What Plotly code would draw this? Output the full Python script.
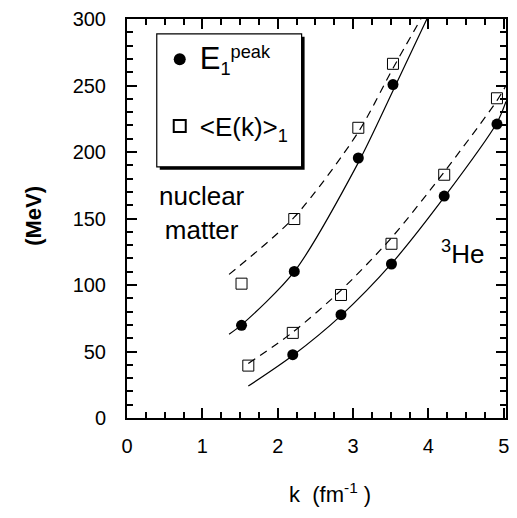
import plotly.graph_objects as go

# ---- data ----
k_nm = [1.52, 2.22, 3.07, 3.53]
peak_nm = [69.7, 110.2, 195.5, 250.7]
mean_nm = [101.0, 149.6, 218.2, 266.3]

k_he = [2.20, 2.84, 3.51, 4.21, 4.91]
peak_he = [47.6, 77.7, 115.8, 166.9, 221.0]
k_he_sq = [1.61, 2.20, 2.84, 3.51, 4.21, 4.91]
mean_he = [39.4, 64.0, 92.5, 131.0, 182.9, 240.4]

# fitted curves
fit_nm_solid_k = [1.355, 1.52, 2.22, 3.07, 3.53, 3.98]
fit_nm_solid_e = [63.0, 70.0, 110.0, 192.0, 246.0, 300.0]
fit_nm_dash_k = [1.355, 2.22, 3.07, 3.53, 3.90]
fit_nm_dash_e = [108.0, 151.0, 215.0, 263.0, 300.0]
fit_he_solid_k = [1.61, 2.20, 2.84, 3.51, 4.21, 4.91, 5.03]
fit_he_solid_e = [24.0, 47.0, 77.0, 116.0, 166.0, 222.0, 238.0]
fit_he_dash_k = [1.61, 2.20, 2.84, 3.51, 4.21, 4.91, 5.03]
fit_he_dash_e = [41.0, 64.5, 96.0, 135.5, 185.0, 238.6, 250.0]

x_ticks = [0, 1, 2, 3, 4, 5]
y_ticks = [0, 50, 100, 150, 200, 250, 300]

FONT = "Liberation Sans, Arial, Helvetica, sans-serif"

# plot-area geometry in page pixels
L, R, T, B = 127, 509, 13, 418
W, H = 517, 518


def px_x(p):
    return (p - L) / (R - L)


def px_y(p):
    return (B - p) / (B - T)


fig = go.Figure()

line_style = dict(color="black", width=1.2, shape="spline", smoothing=0.8)
for kx, ey, dash in [
    (fit_nm_solid_k, fit_nm_solid_e, "solid"),
    (fit_nm_dash_k, fit_nm_dash_e, "dash"),
    (fit_he_solid_k, fit_he_solid_e, "solid"),
    (fit_he_dash_k, fit_he_dash_e, "dash"),
]:
    fig.add_trace(go.Scatter(x=kx, y=ey, mode="lines",
                             line=dict(dash="8px,6px" if dash == "dash" else "solid", **line_style),
                             showlegend=False, hoverinfo="skip"))

circ = dict(symbol="circle", size=11, color="black")
sq = dict(symbol="square-open", size=11, color="black", line=dict(width=1))

fig.add_trace(go.Scatter(x=k_nm, y=peak_nm, mode="markers", marker=circ,
                         name="<span style='font-size:31px'>E</span><sub>1</sub><sup>peak</sup>",
                         legendgroup="a"))
fig.add_trace(go.Scatter(x=k_nm, y=mean_nm, mode="markers", marker=sq,
                         name="<E(k)><sub>1</sub>", legendgroup="b"))
fig.add_trace(go.Scatter(x=k_he, y=peak_he, mode="markers", marker=circ,
                         showlegend=False, legendgroup="a"))
fig.add_trace(go.Scatter(x=k_he_sq, y=mean_he, mode="markers", marker=sq,
                         showlegend=False, legendgroup="b"))

# legend frame with shadow (page pixels -> paper)
fig.add_shape(type="rect", xref="paper", yref="paper",
              x0=px_x(160), x1=px_x(306), y0=px_y(166), y1=px_y(31),
              fillcolor="black", line=dict(width=0), layer="above")
fig.add_shape(type="rect", xref="paper", yref="paper",
              x0=px_x(157), x1=px_x(303), y0=px_y(163), y1=px_y(28),
              fillcolor="white", line=dict(color="black", width=1.2), layer="above")

axis_common = dict(showline=True, linecolor="black", linewidth=2, mirror="allticks",
                   ticks="inside", ticklen=10, tickwidth=1.5, tickcolor="black",
                   showgrid=False, zeroline=False,
                   tickfont=dict(family=FONT, size=20, color="black"))

fig.update_xaxes(range=[0, 5.03], tickvals=x_ticks, ticktext=[str(v) for v in x_ticks],
                 minor=dict(dtick=0.25, tick0=0, ticks="inside", ticklen=6, tickwidth=1.5,
                            tickcolor="black"),
                 ticklabelstandoff=9, **axis_common)
fig.update_yaxes(range=[0, 300], tickvals=y_ticks, ticktext=[str(v) for v in y_ticks],
                 minor=dict(dtick=10, tick0=0, ticks="inside", ticklen=6, tickwidth=1.5,
                            tickcolor="black"),
                 ticklabelstandoff=15, **axis_common)

fig.add_annotation(text="nuclear<br>matter", x=px_x(203), y=px_y(210), xref="paper", yref="paper",
                   xanchor="center", yanchor="middle",
                   showarrow=False, font=dict(family=FONT, size=26, color="black"),
                   align="center")
fig.add_annotation(text="<sup>3</sup>He", x=px_x(465), y=px_y(250), xref="paper", yref="paper",
                   xanchor="center", yanchor="middle",
                   showarrow=False, font=dict(family=FONT, size=26, color="black"))
fig.add_annotation(text="k  (fm<sup>-1</sup> )", x=px_x(332), y=px_y(494), xref="paper", yref="paper",
                   xanchor="center", yanchor="middle",
                   showarrow=False, font=dict(family=FONT, size=22, color="black"))
fig.add_annotation(text="<b>(MeV)</b>", x=px_x(32), y=px_y(213), xref="paper", yref="paper",
                   xanchor="center", yanchor="middle",
                   textangle=-90, showarrow=False, font=dict(family=FONT, size=22, color="black"))

fig.update_layout(
    width=W, height=H,
    margin=dict(l=L, r=W - R, t=T, b=H - B, pad=0),
    paper_bgcolor="white", plot_bgcolor="white",
    showlegend=True,
    legend=dict(x=px_x(160), y=px_y(30), xanchor="left", yanchor="top",
                bgcolor="rgba(0,0,0,0)", borderwidth=0,
                font=dict(family=FONT, size=26, color="black"),
                tracegroupgap=30, itemsizing="constant"),
)

fig.write_html(
    "out.html",
    config={"displayModeBar": False},
    post_script="document.body.style.margin='0';document.body.style.padding='0';"
                "document.documentElement.style.overflow='hidden';",
)
